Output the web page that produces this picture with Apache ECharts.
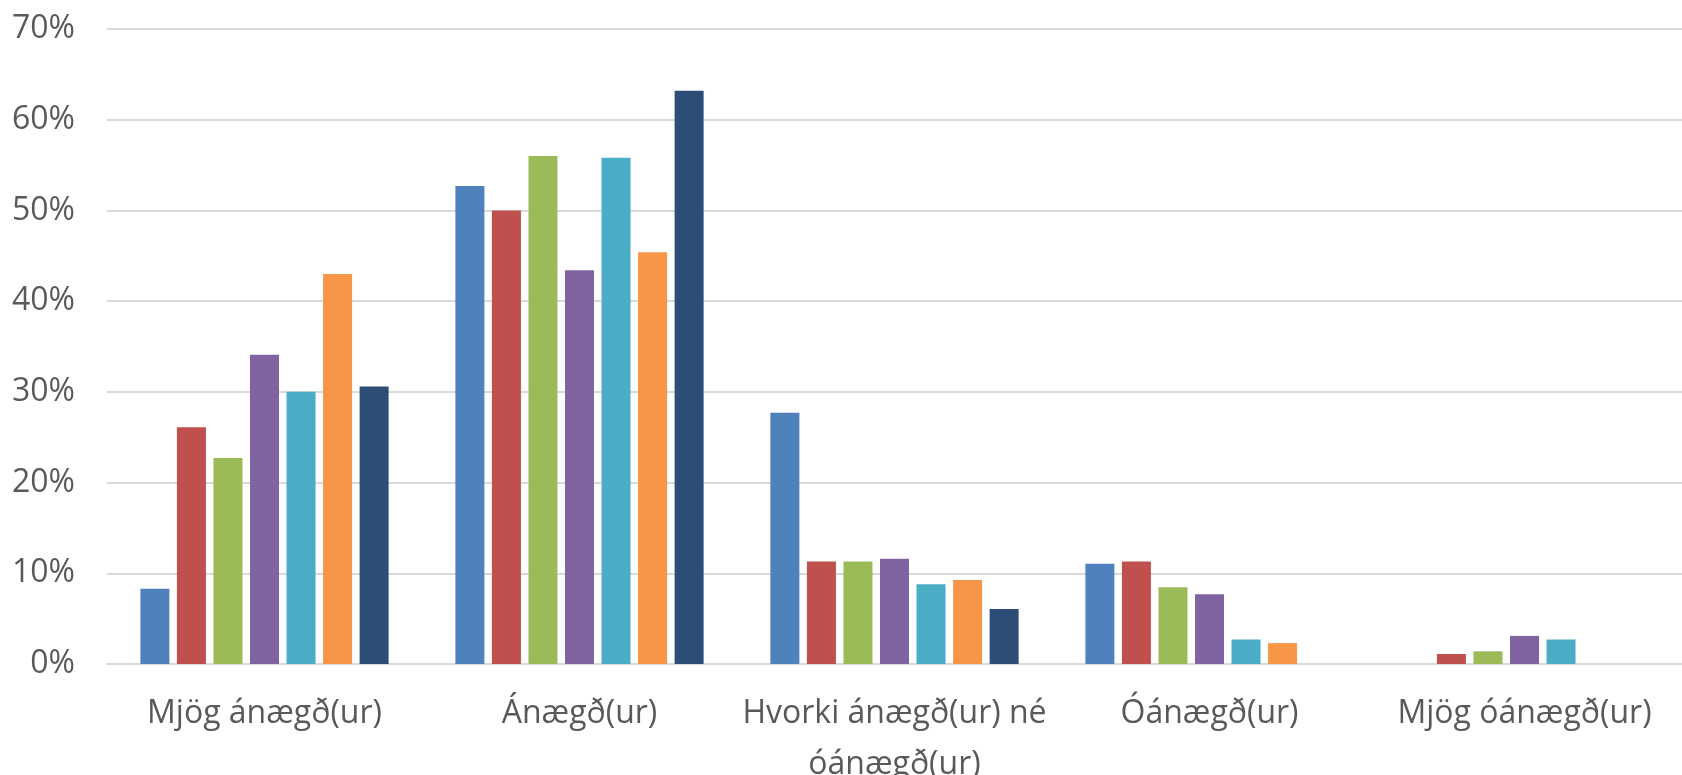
<!DOCTYPE html>
<html>
<head>
<meta charset="utf-8">
<script src="https://cdn.jsdelivr.net/npm/echarts@6/dist/echarts.min.js"></script>
<style>
html,body{margin:0;padding:0;background:#fff;}
#chart{width:1682px;height:775px;}
</style>
</head>
<body>
<div id="chart"></div>
<script>
// flokkar (x-ás)
var categories = ['Mjög ánægð(ur)', 'Ánægð(ur)', 'Hvorki ánægð(ur) né óánægð(ur)', 'Óánægð(ur)', 'Mjög óánægð(ur)'];
var yTicks = [0, 10, 20, 30, 40, 50, 60, 70];

// gildi i %, ein rod fyrir hvern lit
var hopur1 = [8.3, 52.7, 27.7, 11.05, 0];
var hopur2 = [26.1, 50.0, 11.3, 11.3, 1.1];
var hopur3 = [22.7, 56.0, 11.3, 8.45, 1.4];
var hopur4 = [34.1, 43.4, 11.6, 7.7, 3.1];
var hopur5 = [30.0, 55.8, 8.8, 2.7, 2.7];
var hopur6 = [43.0, 45.4, 9.25, 2.3, 0];
var hopur7 = [30.6, 63.2, 6.06, 0, 0];

var colors = ['#4F81BD', '#C0504D', '#9BBB59', '#8064A2', '#4BACC6', '#F79646', '#2C4D75'];
var allData = [hopur1, hopur2, hopur3, hopur4, hopur5, hopur6, hopur7];

var chart = echarts.init(document.getElementById('chart'));

function makeSeries(){
    var serie = [];
    for (var i = 0; i < allData.length; i++) {
        serie.push({
            name: 'Hópur ' + (i + 1),
            type: 'bar',
            barWidth: 29,
            barGap: '26%',
            itemStyle: { color: colors[i] },
            data: allData[i]
        });
    }
    return serie;
}

chart.setOption({
    animation: false,
    textStyle: { fontFamily: 'Open Sans' },
    grid: { left: 107, right: 0, top: 29, bottom: 111, containLabel: false, outerBoundsMode: 'none' },
    xAxis: {
        type: 'category',
        data: categories,
        axisLine: { show: true, lineStyle: { color: '#d9d9d9', width: 2 } },
        axisTick: { show: false },
        axisLabel: {
            color: '#595959',
            fontSize: 32,
            lineHeight: 51,
            margin: 24,
            interval: 0,
            formatter: function(v){ return v.replace(' né ', ' né\n'); }
        }
    },
    yAxis: {
        type: 'value',
        min: yTicks[0],
        max: yTicks[yTicks.length - 1],
        interval: 10,
        axisLine: { show: false },
        axisTick: { show: false },
        splitLine: { lineStyle: { color: '#d9d9d9', width: 2 } },
        axisLabel: {
            color: '#595959',
            fontSize: 32,
            margin: 32,
            formatter: '{value}%'
        }
    },
    series: makeSeries()
});
</script>
</body>
</html>
